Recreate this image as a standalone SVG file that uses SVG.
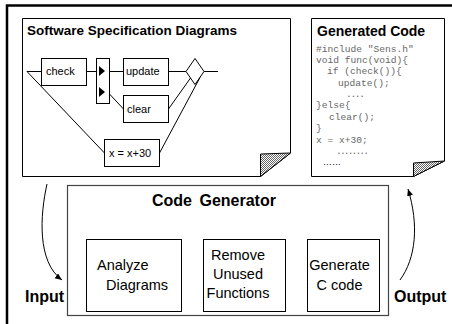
<svg xmlns="http://www.w3.org/2000/svg" width="452" height="324" viewBox="0 0 452 324">
  <style>
    .box { fill: #fff; stroke: #000; stroke-width: 1; }
    .ln { fill: none; stroke: #000; stroke-width: 1; }
    .title { font-family: "Liberation Sans", Arial, sans-serif; font-weight: bold; fill: #000; }
    .lbl { font-family: "Liberation Sans", Arial, sans-serif; font-size: 11px; fill: #000; }
    .step { font-family: "Liberation Sans", Arial, sans-serif; font-size: 14.5px; fill: #000; }
    .code { font-family: "Liberation Mono", "Courier New", monospace; font-size: 9.6px; fill: #666; }
  </style>
  <defs>
    <pattern id="dither" width="2" height="2" patternUnits="userSpaceOnUse">
      <rect width="2" height="2" fill="#fff"/>
      <rect width="1" height="1" fill="#666"/>
      <rect x="1" y="1" width="1" height="1" fill="#666"/>
    </pattern>
    <marker id="headSmall" markerUnits="userSpaceOnUse" markerWidth="8" markerHeight="8" refX="7" refY="3" orient="auto">
      <path d="M0,0 L7,3 L0,6 Z" fill="#000"/>
    </marker>
    <marker id="headBold" markerUnits="userSpaceOnUse" markerWidth="10" markerHeight="10" refX="8" refY="4" orient="auto">
      <path d="M0,0 L8,4 L0,8 Z" fill="#000"/>
    </marker>
  </defs>

  <!-- outer frame -->
  <rect x="7" y="5.5" width="470" height="340" fill="#fff" stroke="#000" stroke-width="2.5"/>

  <!-- specification page with turned corner -->
  <g id="spec-page">
    <path class="box" d="M22.5,18.5 H290.5 V153 L260.5,176.5 H22.5 Z"/>
    <path d="M260.5,154 L290.5,153 L260.5,176.5 Z" fill="url(#dither)" stroke="#000" stroke-width="1"/>
    <text class="title" x="27" y="35" font-size="13.5">Software Specification Diagrams</text>
  </g>

  <!-- flow inside the specification page -->
  <g id="spec-flow">
    <g id="check">
      <rect class="box" x="41.5" y="58.5" width="45" height="27"/>
      <text class="lbl" x="46" y="75">check</text>
    </g>
    <g id="selector">
      <rect class="box" x="96.5" y="58.5" width="13" height="45"/>
      <path d="M99,66 L105,71 L99,76 Z" fill="#000"/>
      <path d="M99,87 L105,92 L99,97 Z" fill="#000"/>
    </g>
    <g id="update">
      <rect class="box" x="123.5" y="58.5" width="45" height="27"/>
      <text class="lbl" x="126" y="75">update</text>
    </g>
    <g id="clear">
      <rect class="box" x="123.5" y="95.5" width="45" height="27"/>
      <text class="lbl" x="127" y="112.5">clear</text>
    </g>
    <g id="assign">
      <rect class="box" x="104.5" y="139.5" width="55" height="27"/>
      <text class="lbl" x="109" y="156.5">x = x+30</text>
    </g>
    <g id="merge">
      <path class="box" d="M186,71.5 L195,58.5 L204,71.5 L195,84.5 Z"/>
    </g>
  </g>

  <!-- connectors -->
  <g id="connectors">
    <path class="ln" d="M27,71.5 H41.5"/>
    <path class="ln" d="M86.5,71.5 H96.5"/>
    <path class="ln" d="M109.5,71.5 H123.5"/>
    <path class="ln" d="M168.5,71.5 H186"/>
    <path class="ln" d="M204,71.5 H218"/>
    <path class="ln" d="M109.5,94 L123.5,109"/>
    <path class="ln" d="M27,71.5 L104.5,153"/>
    <path class="ln" d="M168.5,109 L190.5,78"/>
    <path class="ln" d="M159.5,153 L200,77.5"/>

    <path d="M181.5,275.5 H195" stroke="#000" stroke-width="3" marker-end="url(#headBold)"/>
    <path d="M285.5,276 H301" stroke="#000" stroke-width="3" marker-end="url(#headBold)"/>

    <path class="ln" d="M47,184 C40,215 37,262 62,280" marker-end="url(#headSmall)"/>
    <path class="ln" d="M400,280 C416,258 419,225 408,189" marker-end="url(#headSmall)"/>
  </g>

  <!-- generated code page with turned corner -->
  <g id="code-page">
    <path class="box" d="M311.5,18.5 H444.5 V161 L413.5,176.5 H311.5 Z"/>
    <path d="M413.5,163 L444.5,161 L413.5,176.5 Z" fill="url(#dither)" stroke="#000" stroke-width="1"/>
    <text class="title" x="317" y="36" font-size="14">Generated Code</text>
    <text class="code" x="316" y="51.5">#include "Sens.h"</text>
    <text class="code" x="316" y="62.9">void func(void){</text>
    <text class="code" x="327" y="74.3">if (check()){</text>
    <text class="code" x="338" y="85.7">update();</text>
    <text class="code" x="346" y="96.5" textLength="19" lengthAdjust="spacing">....</text>
    <text class="code" x="316" y="108.4">}else{</text>
    <text class="code" x="329" y="119.8">clear();</text>
    <text class="code" x="316" y="131.2">}</text>
    <text class="code" x="316" y="142.6">x = x+30;</text>
    <text class="code" x="336" y="153.5" textLength="33" lengthAdjust="spacing">........</text>
    <text x="323" y="164.5" font-family="Liberation Sans, Arial, sans-serif" font-size="9" fill="#000">……</text>
  </g>

  <!-- code generator -->
  <g id="code-generator">
    <rect x="67.5" y="185.5" width="321" height="130" fill="#fff" stroke="#444" stroke-width="1.2"/>
    <text class="title" x="152" y="206" font-size="16" word-spacing="3">Code Generator</text>
  </g>

  <g id="analyze">
    <rect class="box" x="86.5" y="239.5" width="95" height="72"/>
    <text class="step" x="97" y="270">Analyze</text>
    <text class="step" x="106" y="290">Diagrams</text>
  </g>

  <g id="remove">
    <rect class="box" x="203.5" y="239.5" width="82" height="72"/>
    <text class="step" x="238" y="260" font-size="15" text-anchor="middle">Remove</text>
    <text class="step" x="238" y="279" font-size="15" text-anchor="middle">Unused</text>
    <text class="step" x="238" y="298" font-size="15" text-anchor="middle">Functions</text>
  </g>

  <g id="generate">
    <rect class="box" x="307.5" y="239.5" width="72" height="72"/>
    <text class="step" x="339.5" y="270" text-anchor="middle">Generate</text>
    <text class="step" x="339.5" y="289.5" text-anchor="middle">C code</text>
  </g>

  <text class="title" x="25" y="302" font-size="16">Input</text>
  <text class="title" x="394" y="302" font-size="16">Output</text>
</svg>
